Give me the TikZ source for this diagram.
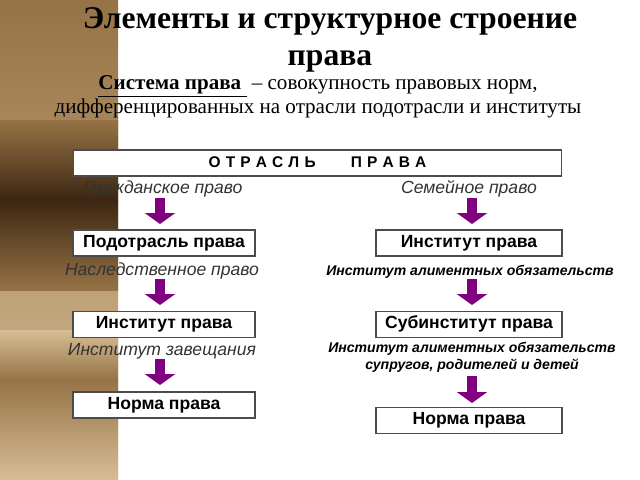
\documentclass[tikz,border=0pt]{standalone}
\usepackage{fontspec}
\setmainfont{Liberation Serif}
\newfontfamily\arialfont{Liberation Sans}
\usetikzlibrary{positioning, arrows.meta}
\definecolor{arrowpurple}{RGB}{128,0,128}
\definecolor{bgdark}{RGB}{60,38,18}
\definecolor{bgmid}{RGB}{150,115,70}
\definecolor{bglight}{RGB}{215,190,150}
\tikzset{
  box/.style={draw=black!70, line width=0.6pt, fill=white, inner sep=0pt, minimum height=0.52cm, text height=1.2ex, text depth=0.2ex, font=\arialfont\bfseries\fontsize{10}{12}\selectfont},
  branch/.style={font=\arialfont\itshape\fontsize{10}{12}\selectfont, text=black!80},
  small/.style={font=\arialfont\bfseries\itshape\fontsize{8}{9.5}\selectfont, align=center},
  downarrow/.style={draw=arrowpurple, line width=0.2cm, -{Triangle[width=0.6cm,length=0.22cm]}, fill=arrowpurple}
}
\begin{document}
\begin{tikzpicture}[x=0.02cm, y=-0.02cm]
  \useasboundingbox (0,0) rectangle (640,480);
  % background
  \fill[white] (0,0) rectangle (640,480);
  \shade[top color=bgmid, bottom color=bglight] (0,0) rectangle (118,480);
  \shade[top color=bgmid, bottom color=bgdark] (0,120) rectangle (118,200);
  \shade[top color=bgdark, bottom color=bgmid] (0,200) rectangle (118,290);
  \shade[top color=bglight, bottom color=bgmid] (0,330) rectangle (118,380);
  \shade[top color=bgmid, bottom color=bglight] (0,380) rectangle (118,480);
  % title
  \node[font=\bfseries\fontsize{18}{21}\selectfont, align=center] (title) at (330,40) {Элементы и структурное строение\\права};
  \node[font=\fontsize{12}{13.5}\selectfont, align=center] (subtitle) at (318,97)
    {\underline{\textbf{Система права }} – совокупность правовых норм,\\дифференцированных на отрасли подотрасли и институты};
  % boxes
  \node[box, minimum width=9.78cm, font=\arialfont\bfseries\fontsize{8.8}{10}\selectfont] (branch) at (317.5,163) {О\,\,Т\,\,Р\,\,А\,\,С\,\,Л\,\,Ь \qquad П\,\,Р\,\,А\,\,В\,\,А};
  \node[box, minimum width=3.64cm] (subbranch) at (164,243) {Подотрасль права};
  \node[box, minimum width=3.64cm] (instL) at (164,324.5) {Институт права};
  \node[box, minimum width=3.64cm] (normL) at (164,405) {Норма права};
  \node[box, minimum width=3.72cm] (instR) at (469,243) {Институт права};
  \node[box, minimum width=3.72cm] (subinst) at (469,324.5) {Субинститут права};
  \node[box, minimum width=3.72cm] (normR) at (469,420.5) {Норма права};
  % labels
  \node[branch] (civil) at (163,189) {Гражданское право};
  \node[branch] (family) at (469,189) {Семейное право};
  \node[branch] (heir) at (162,271) {Наследственное право};
  \node[branch] (will) at (162,351) {Институт завещания};
  \node[small] (alim) at (470,272) {Институт алиментных обязательств};
  \node[small] (alimfam) at (472,357) {Институт алиментных обязательств\\супругов, родителей и детей};
  % arrows
  \draw[downarrow] (160,198) -- (160,224);
  \draw[downarrow] (160,279) -- (160,305);
  \draw[downarrow] (160,359) -- (160,385);
  \draw[downarrow] (472,198) -- (472,224);
  \draw[downarrow] (472,279) -- (472,305);
  \draw[downarrow] (472,376) -- (472,403);
\end{tikzpicture}
\end{document}
